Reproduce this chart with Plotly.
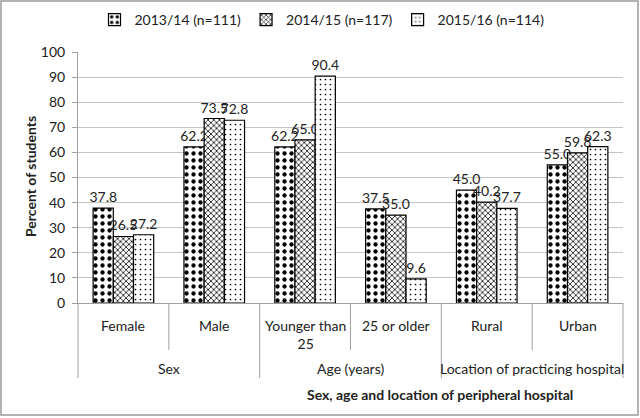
import plotly.graph_objects as go

categories = ["Female", "Male", "Younger than<br>25", "25 or older", "Rural", "Urban"]
groups = ["Sex", "Age (years)", "Location of practicing hospital"]
series_names = ["2013/14 (n=111)", "2014/15 (n=117)", "2015/16 (n=114)"]
v_2013 = [37.8, 62.2, 62.2, 37.5, 45.0, 55.0]
v_2014 = [26.5, 73.5, 65.0, 35.0, 40.2, 59.8]
v_2015 = [27.2, 72.8, 90.4, 9.6, 37.7, 62.3]

W, H = 640, 418
L, R, T, B = 78, 623, 52, 303  # plot area in pixels


def px(x):
    return (x - L) / (R - L)


def py(y):
    return (B - y) / (B - T)


FONT = "Lato"
TXT = "#222222"
FS = 14
patterns = [
    dict(shape=".", size=7, solidity=0.3, fgcolor="black", bgcolor="white", fgopacity=1),
    dict(shape="x", size=4, solidity=0.35, fgcolor="black", bgcolor="white", fgopacity=1),
    dict(shape=".", size=5, solidity=0.09, fgcolor="black", bgcolor="white", fgopacity=1),
]

fig = go.Figure()
for name, vals, pat in zip(series_names, [v_2013, v_2014, v_2015], patterns):
    fig.add_trace(go.Bar(
        x=categories, y=vals, name=name,
        marker=dict(color="white", pattern=pat, line=dict(color="black", width=1.2)),
        texttemplate="%{y:.1f}", textposition="outside", constraintext="none",
        cliponaxis=False, textfont=dict(family=FONT, size=FS, color=TXT),
    ))

annotations = []
# inner category labels
for c in categories:
    annotations.append(dict(x=c, y=py(315), xref="x", yref="paper", text=c, showarrow=False,
                            xanchor="center", yanchor="top", font=dict(family=FONT, size=FS, color=TXT)))
# outer group labels
for i, g in enumerate(groups):
    annotations.append(dict(x=2 * i + 0.5, y=py(368), xref="x", yref="paper", text=g, showarrow=False,
                            xanchor="center", yanchor="middle", font=dict(family=FONT, size=FS, color=TXT)))
# axis titles
annotations.append(dict(x=px(440), y=py(394), xref="paper", yref="paper", xanchor="center", yanchor="middle",
                        text="<b>Sex, age and location of peripheral hospital</b>", showarrow=False,
                        font=dict(family=FONT, size=FS, color=TXT)))
annotations.append(dict(x=px(30), y=py(177), xref="paper", yref="paper", textangle=-90,
                        xanchor="center", yanchor="middle",
                        text="<b>Percent of students</b>", showarrow=False,
                        font=dict(family=FONT, size=FS, color=TXT)))

shapes = []
DIV = "#a0a0a0"
for xb in [0.5, 2.5, 4.5]:
    shapes.append(dict(type="line", xref="x", yref="paper", x0=xb, x1=xb, y0=0, y1=py(350),
                       line=dict(color=DIV, width=1)))
for xb in [1.5, 3.5]:
    shapes.append(dict(type="line", xref="x", yref="paper", x0=xb, x1=xb, y0=0, y1=py(378),
                       line=dict(color=DIV, width=1)))
for xp in [0, 1]:
    shapes.append(dict(type="line", xref="paper", yref="paper", x0=xp, x1=xp, y0=0, y1=py(378),
                       line=dict(color=DIV, width=1)))
# chart border
shapes.append(dict(type="rect", xref="paper", yref="paper", x0=px(1), x1=px(638), y0=py(415), y1=py(1),
                   line=dict(color="#9a9a9a", width=1.5)))

fig.update_layout(
    width=W, height=H,
    margin=dict(l=L, r=W - R, t=T, b=H - B, pad=0, autoexpand=False),
    paper_bgcolor="white", plot_bgcolor="white",
    barmode="group", bargap=0.333, bargroupgap=0,
    font=dict(family=FONT, size=FS, color=TXT),
    legend=dict(orientation="h", x=px(322), xanchor="center", y=py(20), yanchor="middle",
                font=dict(family=FONT, size=FS, color=TXT), itemwidth=30, bgcolor="rgba(0,0,0,0)"),
    xaxis=dict(showticklabels=False, ticks="", showline=True, linecolor=DIV, linewidth=1,
               showgrid=False, range=[-0.5, 5.5], automargin=False),
    yaxis=dict(range=[0, 100], dtick=10, showgrid=True, gridcolor="#c4c4c4", gridwidth=1,
               showline=True, linecolor=DIV, linewidth=1, ticks="outside", ticklen=5,
               tickcolor=DIV, ticklabelstandoff=4, zeroline=False, automargin=False,
               tickfont=dict(family=FONT, size=FS, color=TXT)),
    annotations=annotations, shapes=shapes,
)

fig.write_html("out.html", config={"displayModeBar": False},
               post_script="document.body.style.margin='0';document.body.style.overflow='hidden';")
